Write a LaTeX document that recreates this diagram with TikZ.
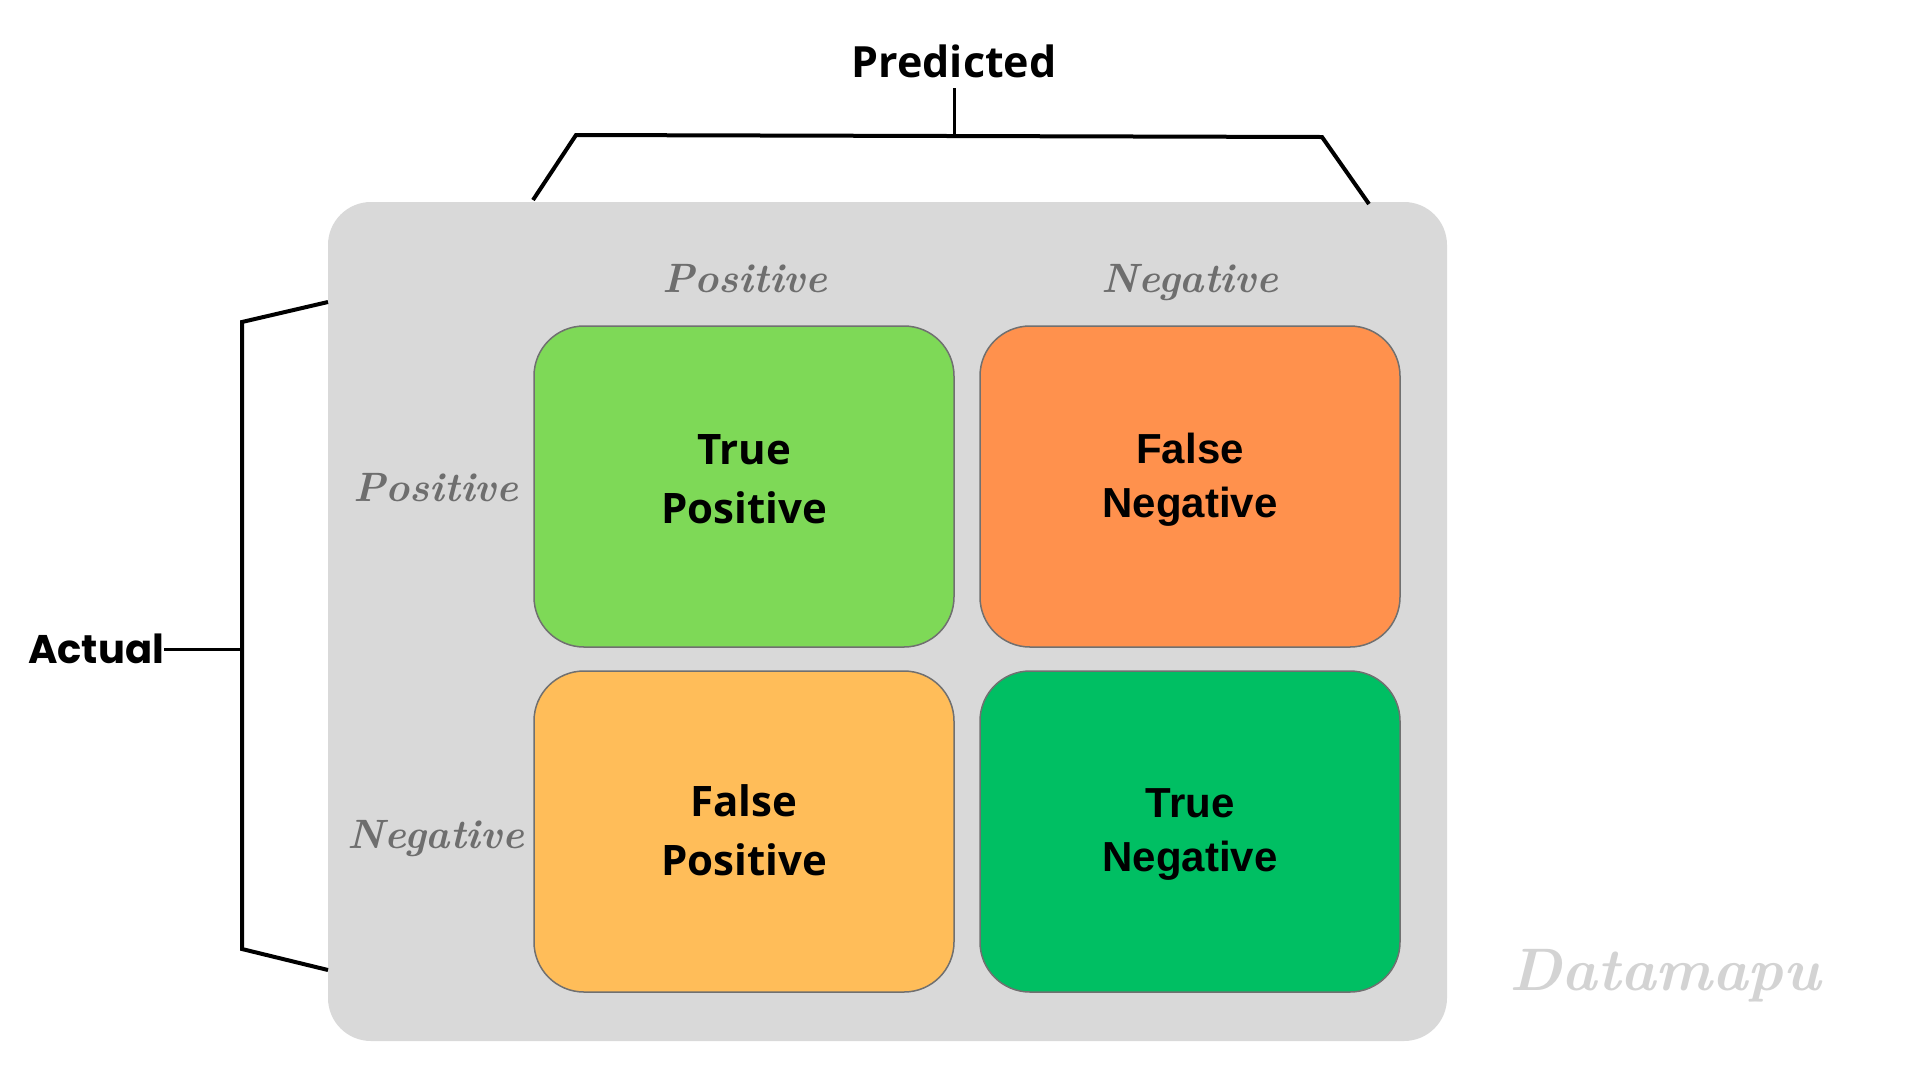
\documentclass[tikz,border=0pt]{standalone}
\usepackage{fontspec}
\newfontfamily\opensans{Open Sans}
\newfontfamily\arialfont{Liberation Sans}
\newfontfamily\poppins{Poppins}
\definecolor{panelgray}{HTML}{D9D9D9}
\definecolor{tpgreen}{HTML}{7ED957}
\definecolor{fnorange}{HTML}{FF914D}
\definecolor{fpyellow}{HTML}{FFBD59}
\definecolor{tngreen}{HTML}{00BF63}
\definecolor{boxline}{HTML}{707070}
\definecolor{labelgray}{HTML}{6E6E6E}
\definecolor{markgray}{HTML}{D3D3D3}
\tikzset{
  x=1pt, y=-1pt,
  cell/.style={draw=boxline, line width=1.5pt, rounded corners=50pt,
    minimum width=420pt, minimum height=321pt, inner sep=0pt, align=center,
    text=black},
  cellA/.style={cell, font=\opensans\bfseries\fontsize{42}{59}\selectfont},
  cellB/.style={cell, font=\arialfont\bfseries\fontsize{42}{54}\selectfont},
  celltext/.style={inner sep=0pt, align=center},
  scriptlabel/.style={text=labelgray, anchor=base, inner sep=0pt,
    font=\bfseries\itshape\fontsize{41}{48}\selectfont},
  bracketline/.style={line width=4pt, line join=miter},
  stubline/.style={line width=3pt},
}
\begin{document}
\begin{tikzpicture}
\useasboundingbox (0,0) rectangle (1920,1080);
\fill[white] (0,0) rectangle (1920,1080);

% panel
\node[fill=panelgray, rounded corners=43pt, minimum width=1119pt,
  minimum height=839pt, inner sep=0pt] (panel) at (887.5,621.5) {};

% cells
\node[cell, fill=tpgreen] (tp) at (744,486.5) {};
\node[cell, fill=fnorange] (fn) at (1190,486.5) {};
\node[cell, fill=fpyellow] (fp) at (744,831.5) {};
\node[cell, fill=tngreen] (tn) at (1190,831.5) {};
\node[celltext, font=\opensans\bfseries\fontsize{42}{59}\selectfont] (tpt) at ([yshift=7pt]tp.center) {True\\Positive};
\node[celltext, font=\arialfont\bfseries\fontsize{42}{54}\selectfont] (fnt) at ([yshift=7pt]fn.center) {False\\Negative};
\node[celltext, font=\opensans\bfseries\fontsize{42}{59}\selectfont] (fpt) at ([yshift=1pt]fp.center) {False\\Positive};
\node[celltext, font=\arialfont\bfseries\fontsize{42}{54}\selectfont] (tnt) at ([yshift=-3pt]tn.center) {True\\Negative};

% script labels
\node[scriptlabel] (cpos) at (745,292) {Positive};
\node[scriptlabel] (cneg) at (1190,292) {Negative};
\node[scriptlabel] (rpos) at (436,501) {Positive};
\node[scriptlabel] (rneg) at (436,848) {Negative};

% Predicted
\node[font=\opensans\bfseries\fontsize{43}{50}\selectfont, inner sep=0pt] (pred) at (954,61) {Predicted};
\coordinate (ptop) at (954,88);
\coordinate (pmid) at (954,136);
\coordinate (pl1) at (533,200);
\coordinate (pl2) at (576,135);
\coordinate (pr2) at (1322,137);
\coordinate (pr1) at (1369,204);
\draw[stubline] (ptop) -- (pmid);
\draw[bracketline] (pl1) -- (pl2) -- (pr2) -- (pr1);

% Actual
\node[font=\poppins\bfseries\fontsize{40}{48}\selectfont, inner sep=0pt, anchor=west] (act) at (28,649) {Actual};
\coordinate (amid) at (242,649);
\coordinate (at1) at (328,302);
\coordinate (at2) at (242,322);
\coordinate (ab2) at (242,949);
\coordinate (ab1) at (328,970);
\draw[stubline] (act.east) -- (amid);
\draw[bracketline] (at1) -- (at2) -- (ab2) -- (ab1);

% watermark
\node[text=markgray, anchor=base, inner sep=0pt,
  font=\bfseries\itshape\fontsize{60}{70}\selectfont] (mark) at (1665,990) {Datamapu};
\end{tikzpicture}
\end{document}
